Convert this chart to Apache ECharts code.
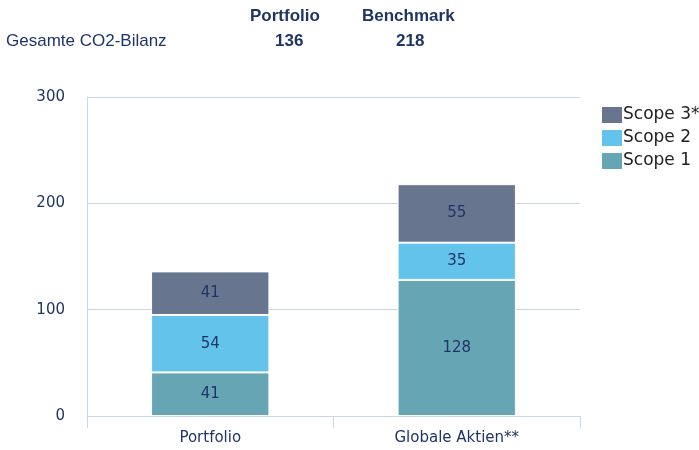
<!DOCTYPE html>
<html>
<head>
<meta charset="utf-8">
<script src="https://cdn.jsdelivr.net/npm/echarts@6/dist/echarts.min.js"></script>
<style>
  html, body { margin: 0; padding: 0; background: #fff; }
  #chart { width: 699px; height: 450px; }
</style>
</head>
<body>
<div id="chart"></div>
<script>
  // daten
  var categories = ['Portfolio', 'Globale Aktien**'];
  var scope1 = [41, 128];
  var scope2 = [54, 35];
  var scope3 = [41, 55];
  var headerCols = ['Portfolio', 'Benchmark'];
  var headerTotals = ['136', '218'];
  var rowLabel = 'Gesamte CO2-Bilanz';

  var navy = '#1f3467';
  var labelFont = 'DejaVu Sans';

  function seg(name, data, color) {
    return {
      name: name,
      type: 'bar',
      stack: 'co2',
      barWidth: '48%',
      data: data,
      itemStyle: { color: color, borderColor: '#fff', borderWidth: 1 },
      label: {
        show: true,
        position: 'inside',
        color: navy,
        fontFamily: labelFont,
        fontSize: 15
      }
    };
  }

  var chart = echarts.init(document.getElementById('chart'));
  chart.setOption({
    animation: false,
    grid: { left: 87, right: 119, top: 97, bottom: 34 },
    legend: {
      orient: 'vertical',
      left: 595,
      top: 100,
      itemWidth: 22,
      itemHeight: 18,
      itemGap: 3,
      icon: 'rect',
      data: ['Scope 3*', 'Scope 2', 'Scope 1'],
      textStyle: { color: '#222', fontFamily: labelFont, fontSize: 17, padding: [0, 0, 0, -5] }
    },
    graphic: [
      { type: 'text', left: 250, top: 8, style: { text: headerCols[0], font: 'bold 17px "Liberation Sans"', fill: navy } },
      { type: 'text', left: 362, top: 8, style: { text: headerCols[1], font: 'bold 17px "Liberation Sans"', fill: navy } },
      { type: 'text', left: 275, top: 33, style: { text: headerTotals[0], font: 'bold 17px "Liberation Sans"', fill: navy } },
      { type: 'text', left: 396, top: 33, style: { text: headerTotals[1], font: 'bold 17px "Liberation Sans"', fill: navy } },
      { type: 'text', left: 6, top: 33, style: { text: rowLabel, font: '17px "Liberation Sans"', fill: navy } }
    ],
    xAxis: {
      type: 'category',
      data: categories,
      axisLine: { lineStyle: { color: '#c9d6e8' } },
      axisTick: { show: true, length: 12, lineStyle: { color: '#c9d6e8' } },
      axisLabel: { color: navy, fontFamily: labelFont, fontSize: 15, margin: 15 }
    },
    yAxis: {
      type: 'value',
      min: 0,
      max: 300,
      interval: 100,
      axisLine: { show: true, lineStyle: { color: '#c9d6e8' } },
      axisTick: { show: false },
      splitLine: { lineStyle: { color: '#c9d6e8' } },
      axisLabel: { color: navy, fontFamily: labelFont, fontSize: 15, margin: 22, padding: [4, 0, 0, 0] }
    },
    series: [
      seg('Scope 1', scope1, '#66a5b3'),
      seg('Scope 2', scope2, '#63c3ea'),
      seg('Scope 3*', scope3, '#67758f')
    ]
  });
</script>
</body>
</html>
